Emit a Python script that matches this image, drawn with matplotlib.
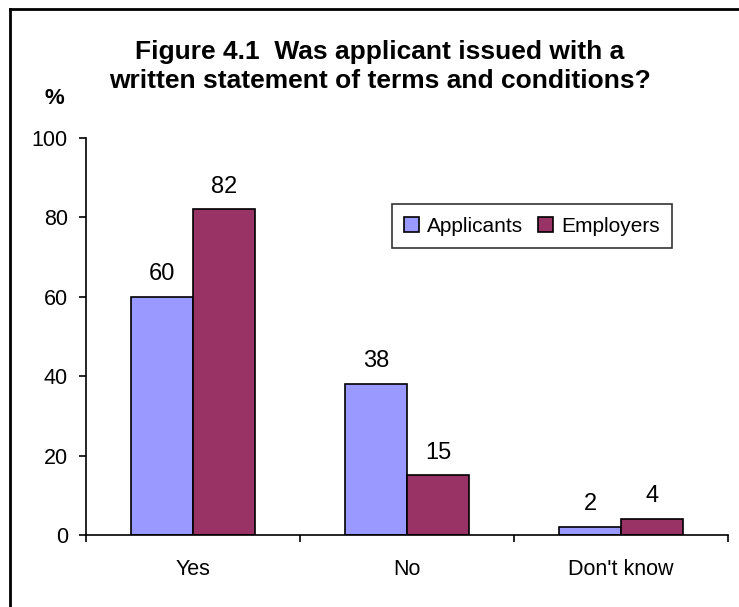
import numpy as np
import matplotlib
matplotlib.use('Agg')
import matplotlib.pyplot as plt
from matplotlib.lines import Line2D

# --- Data ---------------------------------------------------------------------------------
categories = ["Yes", "No", "Don't know"]
applicants = [60, 38, 2]
employers = [82, 15, 4]
series_names = ["Applicants", "Employers"]
y_ticks = [0, 20, 40, 60, 80, 100]

title_text = "Figure 4.1  Was applicant issued with a\nwritten statement of terms and conditions?"

# --- Style --------------------------------------------------------------------------------
plt.rcParams['font.family'] = ['Liberation Sans', 'DejaVu Sans']
col_app = '#9999FF'
col_emp = '#993366'
bar_w = 0.29

fig = plt.figure(figsize=(7.39, 6.07), dpi=100)
ax = fig.add_axes([86 / 739, 1 - 535 / 607, 642 / 739, 397 / 607])

x = np.arange(len(categories))
b1 = ax.bar(x - bar_w / 2, applicants, bar_w, color=col_app, edgecolor='black', linewidth=1.2,
            label=series_names[0])
b2 = ax.bar(x + bar_w / 2, employers, bar_w, color=col_emp, edgecolor='black', linewidth=1.2,
            label=series_names[1])

# value labels above each bar
for bars, vals in ((b1, applicants), (b2, employers)):
    for rect, v in zip(bars, vals):
        ax.annotate(str(v), (rect.get_x() + rect.get_width() / 2, v),
                    xytext=(0, 12), textcoords='offset points',
                    ha='center', va='baseline', fontsize=17)

# axes
ax.set_xlim(-0.5, len(categories) - 0.5)
ax.set_ylim(0, 100)
ax.set_yticks(y_ticks)
ax.tick_params(axis='y', direction='out', length=5, width=1.2, labelsize=15.5, pad=8)

# category boundary ticks on x, labels at the centres
ax.set_xticks(np.arange(len(categories) + 1) - 0.5)
ax.set_xticklabels([])
ax.set_xticks(x, minor=True)
ax.set_xticklabels(categories, minor=True)
ax.tick_params(axis='x', which='major', direction='out', length=5, width=1.2)
ax.tick_params(axis='x', which='minor', length=0, labelsize=15.5, pad=17)

for s in ('top', 'right'):
    ax.spines[s].set_visible(False)
for s in ('left', 'bottom'):
    ax.spines[s].set_linewidth(1.2)

leg = ax.legend(loc='center', bbox_to_anchor=(532 / 739, 1 - 226 / 607),
                bbox_transform=fig.transFigure, ncol=2, fontsize=15, frameon=True,
                fancybox=False, handlelength=0.7, handleheight=0.7, handletextpad=0.4,
                columnspacing=0.7, borderpad=0.6, borderaxespad=0)
leg.get_frame().set_edgecolor('black')
leg.get_frame().set_linewidth(1.2)

# title and unit label
fig.text(0.514, 1 - 88 / 607, title_text, ha='center', va='baseline', fontsize=19,
         fontweight='bold', linespacing=1.28)
fig.text(54 / 739, 1 - 99 / 607, '%', ha='center', va='center', fontsize=16, fontweight='bold')

# chart border (top and left edges)
fig.add_artist(Line2D([10 / 739, 10 / 739], [0, 1 - 9 / 607], transform=fig.transFigure,
                      color='black', linewidth=2))
fig.add_artist(Line2D([10 / 739, 1], [1 - 9 / 607, 1 - 9 / 607], transform=fig.transFigure,
                      color='black', linewidth=2))

fig.savefig('out.png', dpi=100)
